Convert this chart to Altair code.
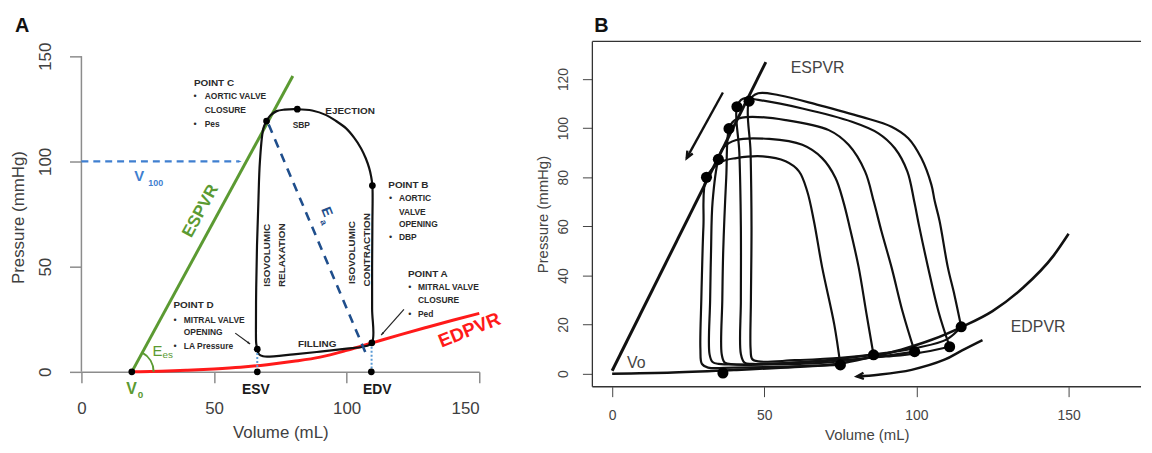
import math
import altair as alt
import pandas as pd

# ================= Panel A values =================
A_ESPVR_V = [19.0, 79.7]
A_ESPVR_P = [0.0, 140.6]

A_EDPVR_V = [19, 30, 40, 50, 60, 70, 80, 90, 100, 110, 120, 130, 140, 150]
A_EDPVR_P = [0, 0.3, 0.8, 1.4, 2.2, 3.4, 5.0, 7.0, 10.2, 13.9, 17.6, 21.1, 24.5, 27.8]

A_LOOP_V = [66.3, 67.0, 68.5, 70.0, 80, 90, 100, 106, 109.5, 109.6, 109.6, 109.7, 109.7,
            109.2, 108.5, 107.2, 105.4, 102.8, 99.8, 96.0, 92.3, 87.0, 81.4, 76.5, 73.6, 71.3, 69.8,
            68.6, 67.3, 66.7, 66.2, 65.9, 65.8, 65.9, 66.3]
A_LOOP_P = [10.8, 8.3, 7.4, 7.2, 8.3, 9.6, 11.0, 11.9, 13.8, 30, 50, 70, 88.5,
            93, 96.8, 101.5, 106.3, 111.3, 115.7, 119.2, 122, 124.2, 124.8, 124.6, 123.9, 121.9, 119.2,
            115.7, 100, 80, 60, 40, 20, 13.5, 10.8]

A_DOT_V = [69.8, 81.4, 109.7, 109.5, 66.3, 66.3, 109.3, 19.0]
A_DOT_P = [119.2, 124.8, 88.5, 13.8, 10.8, 0, 0, 0]

A_DROP_V = [66.3, 109.4]
A_DROP_TOP = [10.8, 13.8]

A_EA_V = [70.6, 108.0]
A_EA_P = [117.5, 6.5]

A_V100_V = [0, 59.0]
A_V100_P = [100, 100]
A_V100_TIP = (60.4, 100)

A_ARROW_D_V = [58.0, 63.6]
A_ARROW_D_P = [18.4, 13.2]
A_ARROW_A_V = [121.6, 113.0]
A_ARROW_A_P = [29.7, 17.5]

A_EES_ARC = (19.0, 0.0)

A_HEAD_TXT = ["POINT C", "POINT B", "POINT A", "POINT D"]
A_HEAD_V = [42.4, 115.7, 123.1, 34.7]
A_HEAD_P = [137.3, 89.0, 46.5, 31.6]

A_MID_TXT = ["EJECTION", "FILLING"]
A_MID_V = [101.3, 88.9]
A_MID_P = [123.9, 13.2]

A_ROT_TXT = ["ISOVOLUMIC", "RELAXATION", "ISOVOLUMIC", "CONTRACTION"]
A_ROT_V = [69.8, 75.5, 101.9, 107.6]
A_ROT_P = [55.4, 55.4, 56.7, 58.0]

A_BUL_TXT = ["AORTIC VALVE", "CLOSURE", "Pes", "AORTIC", "VALVE", "OPENING", "DBP",
             "MITRAL VALVE", "CLOSURE", "Ped", "MITRAL VALVE", "OPENING", "LA Pressure"]
A_BUL_V = [46.5, 46.5, 46.5, 119.7, 119.7, 119.7, 119.7, 126.9, 126.9, 126.9, 38.6, 38.6, 38.6]
A_BUL_P = [130.9, 124.6, 118.0, 82.6, 76.0, 70.4, 64.1, 40.2, 33.9, 27.7, 24.8, 19.0, 12.4]

A_DOTCHAR_V = [42.8, 42.8, 116.6, 116.6, 123.8, 123.8, 35.3, 35.3]
A_DOTCHAR_P = [130.9, 118.0, 82.6, 64.1, 40.2, 27.7, 24.8, 12.4]

# ================= Panel B values =================
B_ESPVR_V = [0, 50.5]
B_ESPVR_P = [1.2, 126.9]

B_EDPVR_V = [0, 20, 40, 60, 75, 85, 95, 105, 115, 125, 135, 145, 150]
B_EDPVR_P = [0, 0.5, 1.5, 2.8, 4.2, 6.8, 9.8, 13.8, 19.1, 25.5, 35, 48, 57]

B_L1_V = [114.7, 112.5, 110.3, 107.6, 106, 104.9, 101.6, 97.3, 91.8, 82, 67.9, 54.9, 48, 45, 45.5, 45.8, 45.6, 45.5, 46, 48, 60, 75, 90, 100, 110, 114.7]
B_L1_P = [19.1, 32, 43.4, 62.2, 70.3, 77, 87.8, 95.9, 100.6, 104.6, 109.4, 113.4, 114.2, 111, 90, 60, 30, 10, 6, 5, 5.5, 6.5, 8.5, 10.5, 14, 19.1]
B_L2_V = [110.9, 107.3, 103.8, 100.9, 99.3, 97.0, 92.9, 87.5, 78.8, 62.5, 48, 43, 41, 41.8, 42.3, 42.3, 42.3, 43.5, 46, 60, 75, 90, 100, 110.9]
B_L2_P = [11, 25, 43.4, 60, 70, 82.4, 91.8, 97.9, 102.6, 108, 111.5, 112, 108.7, 90, 60, 30, 8, 4.5, 4, 4.5, 5.5, 7, 8.3, 11]
B_L3_V = [99.4, 95.5, 91.8, 88.5, 86, 83.1, 77.7, 71.2, 57, 44, 40, 38.4, 37.5, 36.5, 36.2, 36, 37, 40, 55, 70, 85, 99.4]
B_L3_P = [9, 25, 43.4, 58, 70, 82.4, 93.2, 99.2, 103.3, 104.5, 103, 99.8, 80, 50, 30, 8, 4.5, 3.8, 3.8, 4.5, 6.5, 9]
B_L4_V = [85.9, 83.5, 81, 78, 76, 73.4, 69, 62.5, 51.6, 40.8, 36.5, 34.9, 33, 32.5, 32.2, 32, 33, 35, 50, 70, 85.9]
B_L4_P = [7.7, 25, 43.4, 60, 70, 79.7, 87.8, 93.2, 95.6, 95.2, 92, 87.3, 70, 50, 30, 8, 4.8, 4, 4, 5.5, 7.7]
B_L5_V = [75, 73, 69, 66.3, 64.1, 61.4, 57, 49.5, 40.8, 36, 31, 30, 29.5, 29.3, 29, 29.5, 31.5, 40, 55, 75]
B_L5_P = [3.6, 20, 43.4, 62.2, 74.3, 82.4, 86.5, 88.5, 87.8, 86.3, 80, 60, 40, 30, 10, 4, 2.5, 2.5, 2.8, 3.6]

B_ES_V = [31, 34.9, 38.4, 41, 45]
B_ES_P = [80, 87.3, 99.8, 108.7, 111]
B_ED_V = [75, 85.9, 99.4, 110.9, 114.7, 36.4]
B_ED_P = [3.6, 7.7, 9, 11, 19.1, 0.3]

B_AR1_V = [36.4, 24.5]
B_AR1_P = [114.5, 87.8]
B_AR2_V = [121.7, 115, 109.2, 98.4, 87.5, 80.4]
B_AR2_P = [13.7, 9.5, 5.7, 1.6, -0.4, -1.1]

B_TXT = ["ESPVR", "EDPVR", "Vo"]
B_TXT_V = [58.7, 131.0, 4.9]
B_TXT_P = [124.4, 19.1, 4.4]

# ================= layout / style =================
WA, HA = 401, 333
A_XDOM, A_YDOM = [0, 150], [0, 157]
WB, HB = 553, 348
B_XDOM, B_YDOM = [-6.5, 173.8], [-5.3, 135.3]

AXF = "Liberation Sans"
GREEN = "#5b9a32"
RED = "#ff1a1a"
NAVY = "#1f4e8c"
BLUE = "#3f7fd0"
LBLUE = "#5b9bd5"
INK = "#2b2b2b"
AGREY = "#8c8c8c"

axA_x = alt.Axis(values=[0, 50, 100, 150], domain=True, domainColor=AGREY, domainWidth=1.5,
                 tickColor=AGREY, tickWidth=1.5, tickSize=11, labelFontSize=17, labelColor="#404040",
                 labelPadding=18, labelFont=AXF, labelFlush=False,
                 labelAlign={"condition": {"test": "datum.value >= 150", "value": "right"}, "value": "center"},
                 title="Volume (mL)", titleFont=AXF,
                 titleFontSize=17, titleFontWeight="normal", titleColor="#404040", titlePadding=8, grid=False)
axA_y = alt.Axis(values=[0, 50, 100, 150], domain=False, tickColor=AGREY, tickWidth=1.5, tickSize=12,
                 labelFontSize=17, labelColor="#404040", labelPadding=15, labelFont=AXF, labelAngle=270,
                 labelAlign="center", labelBaseline="bottom", title="Pressure (mmHg)", titleFont=AXF,
                 titleFontSize=17, titleFontWeight="normal", titleColor="#404040", titlePadding=9,
                 titleY=177, grid=False)
axB_x = alt.Axis(values=[0, 50, 100, 150], domain=False, tickColor="#444444", tickWidth=1, tickSize=10,
                 labelFontSize=14, labelColor="#444444", labelPadding=12, labelFont=AXF, labelFlush=False,
                 title="Volume (mL)", titleFont=AXF, titleFontSize=15, titleFontWeight="normal",
                 titleColor="#444444", titlePadding=5, grid=False)
axB_y = alt.Axis(values=[0, 20, 40, 60, 80, 100, 120], domain=False, tickColor="#444444", tickWidth=1,
                 tickSize=10, labelFontSize=14, labelColor="#444444", labelPadding=12, labelFont=AXF,
                 labelAngle=270, labelAlign="center", labelBaseline="bottom", title="Pressure (mmHg)",
                 titleFont=AXF, titleFontSize=15, titleFontWeight="normal", titleColor="#444444",
                 titlePadding=6, grid=False)


def XA(f="V"):
    return alt.X(f"{f}:Q", scale=alt.Scale(domain=A_XDOM, nice=False, zero=False), axis=axA_x)


def YA(f="P"):
    return alt.Y(f"{f}:Q", scale=alt.Scale(domain=A_YDOM, nice=False, zero=False), axis=axA_y)


def XB(f="V"):
    return alt.X(f"{f}:Q", scale=alt.Scale(domain=B_XDOM, nice=False, zero=False), axis=axB_x)


def YB(f="P"):
    return alt.Y(f"{f}:Q", scale=alt.Scale(domain=B_YDOM, nice=False, zero=False), axis=axB_y)


SXA, SYA = WA / (A_XDOM[1] - A_XDOM[0]), HA / (A_YDOM[1] - A_YDOM[0])
SXB, SYB = WB / (B_XDOM[1] - B_XDOM[0]), HB / (B_YDOM[1] - B_YDOM[0])


def head_angle(v0, p0, v1, p1, sx, sy):
    dx = (v1 - v0) * sx
    dy = -(p1 - p0) * sy
    return (math.degrees(math.atan2(dx, -dy)) + 360) % 360


def path_df(V, P):
    return pd.DataFrame({"V": V, "P": P, "i": list(range(len(V)))})


def line(V, P, X, Y, **kw):
    return alt.Chart(path_df(V, P)).mark_line(**kw).encode(x=X(), y=Y(), order=alt.Order("i:Q"))


def txt(V, P, T, X, Y, **kw):
    df = pd.DataFrame({"V": V, "P": P, "t": T})
    return alt.Chart(df).mark_text(**kw).encode(x=X(), y=Y(), text="t:N")


TRI = "M 0 0 L -0.6 1.7 L 0.6 1.7 Z"
CHEV = "M -0.8 1.8 L 0 0 L 0.8 1.8"


def head(v, p, ang, X, Y, shape, size, color, filled, sw=1):
    df = pd.DataFrame({"V": [v], "P": [p]})
    return alt.Chart(df).mark_point(shape=shape, size=size, angle=ang, filled=filled, color=color,
                                    opacity=1, strokeWidth=sw).encode(x=X(), y=Y())


# ================= Panel A =================
a_layers = []
a_layers.append(alt.Chart(pd.DataFrame({"V": [0], "P": [0], "P2": [150]})).mark_rule(
    color=AGREY, strokeWidth=1.5).encode(x=XA(), y=YA(), y2="P2:Q"))
a_layers.append(line(A_V100_V, A_V100_P, XA, YA, color=BLUE, strokeWidth=2.2, strokeDash=[7, 5]))
a_layers.append(head(A_V100_TIP[0], A_V100_TIP[1], 90, XA, YA, TRI, 20, BLUE, True))
a_layers.append(line(A_EDPVR_V, A_EDPVR_P, XA, YA, color=RED, strokeWidth=3, interpolate="monotone"))
a_layers.append(line(A_ESPVR_V, A_ESPVR_P, XA, YA, color=GREEN, strokeWidth=3))
a_layers.append(line(A_LOOP_V, A_LOOP_P, XA, YA, color="#111111", strokeWidth=2.2, interpolate="catmull-rom"))
a_layers.append(line(A_EA_V, A_EA_P, XA, YA, color=NAVY, strokeWidth=2.6, strokeDash=[9, 7]))
drop_df = pd.DataFrame({"V": A_DROP_V, "P": A_DROP_TOP, "P2": [0] * len(A_DROP_V)})
a_layers.append(alt.Chart(drop_df).mark_rule(color=LBLUE, strokeWidth=2, strokeDash=[2, 2]).encode(
    x=XA(), y=YA(), y2="P2:Q"))
esp_ang = math.atan2((A_ESPVR_V[1] - A_ESPVR_V[0]) * SXA, (A_ESPVR_P[1] - A_ESPVR_P[0]) * SYA)
a_layers.append(alt.Chart(pd.DataFrame({"V": [A_EES_ARC[0]], "P": [A_EES_ARC[1]]})).mark_arc(
    filled=False, color=GREEN, strokeWidth=2, radius=22, radius2=22, theta=esp_ang, theta2=math.pi / 2
).encode(x=XA(), y=YA()))
a_layers.append(alt.Chart(pd.DataFrame({"V": A_DOT_V, "P": A_DOT_P})).mark_circle(
    size=46, color="#000000", opacity=1).encode(x=XA(), y=YA()))
for V, P in [(A_ARROW_D_V, A_ARROW_D_P), (A_ARROW_A_V, A_ARROW_A_P)]:
    a_layers.append(line(V, P, XA, YA, color="#222222", strokeWidth=1.2))
    a_layers.append(head(V[1], P[1], head_angle(V[0], P[0], V[1], P[1], SXA, SYA), XA, YA, TRI, 14,
                         "#222222", True))
a_layers.append(txt(A_HEAD_V, A_HEAD_P, A_HEAD_TXT, XA, YA, font=AXF, fontSize=10, fontWeight="bold",
                    color=INK, align="left", baseline="middle"))
a_layers.append(txt(A_MID_V, A_MID_P, A_MID_TXT, XA, YA, font=AXF, fontSize=10, fontWeight="bold",
                    color=INK, align="center", baseline="middle"))
a_layers.append(txt(A_ROT_V, A_ROT_P, A_ROT_TXT, XA, YA, font=AXF, fontSize=10, fontWeight="bold",
                    color=INK, align="center", baseline="middle", angle=270))
a_layers.append(txt(A_BUL_V, A_BUL_P, A_BUL_TXT, XA, YA, font=AXF, fontSize=8.5, fontWeight="bold",
                    color=INK, align="left", baseline="middle"))
a_layers.append(txt(A_DOTCHAR_V, A_DOTCHAR_P, ["\u2022"] * len(A_DOTCHAR_V), XA, YA, font=AXF, fontSize=9,
                    color=INK, align="center", baseline="middle"))
a_layers.append(txt([82.9], [117.3], ["SBP"], XA, YA, font=AXF, fontSize=8.5, fontWeight="bold",
                    color=INK, align="center", baseline="middle"))
a_layers.append(txt([65.8, 111.5], [-8.5, -8.5], ["ESV", "EDV"], XA, YA, font=AXF, fontSize=14,
                    fontWeight="bold", color="#1a1a1a", align="center", baseline="middle"))
a_layers.append(txt([44.9], [76.4], ["ESPVR"], XA, YA, font=AXF, fontSize=17, fontWeight="bold",
                    color=GREEN, align="center", baseline="middle", angle=298.5))
a_layers.append(txt([146.3], [19.8], ["EDPVR"], XA, YA, font=AXF, fontSize=19, fontWeight="bold",
                    color=RED, align="center", baseline="middle", angle=338))
a_layers.append(txt([92.4], [75.9], ["E"], XA, YA, font=AXF, fontSize=14, fontWeight="bold",
                    color=NAVY, align="center", baseline="middle", angle=68))
a_layers.append(txt([91.3], [71.0], ["a"], XA, YA, font=AXF, fontSize=9, fontWeight="bold",
                    color=NAVY, align="center", baseline="middle", angle=68))
a_layers.append(txt([19.9], [90.5], ["V"], XA, YA, font=AXF, fontSize=15, fontWeight="bold",
                    color=BLUE, align="left", baseline="alphabetic"))
a_layers.append(txt([25.2], [88.5], ["100"], XA, YA, font=AXF, fontSize=9, fontWeight="bold",
                    color=BLUE, align="left", baseline="alphabetic"))
a_layers.append(txt([26.8], [7.7], ["E"], XA, YA, font=AXF, fontSize=15, color=GREEN, align="left",
                    baseline="alphabetic"))
a_layers.append(txt([30.6], [6.5], ["es"], XA, YA, font=AXF, fontSize=10, color=GREEN, align="left",
                    baseline="alphabetic"))
a_layers.append(txt([18.9], [-10.4], ["V"], XA, YA, font=AXF, fontSize=16, fontWeight="bold",
                    color=GREEN, align="center", baseline="alphabetic"))
a_layers.append(txt([21.2], [-12.4], ["0"], XA, YA, font=AXF, fontSize=10, fontWeight="bold",
                    color=GREEN, align="left", baseline="alphabetic"))
a_layers.append(alt.Chart(pd.DataFrame({"t": ["A"]})).mark_text(
    font=AXF, fontSize=20, fontWeight="bold", color="#111111", align="left", baseline="alphabetic"
).encode(x=alt.value(-67), y=alt.value(-10), text="t:N"))

panelA = alt.layer(*a_layers).properties(width=WA, height=HA)

# ================= Panel B =================
b_layers = []
rule_df = pd.DataFrame({"k": [0]})
b_layers.append(alt.Chart(rule_df).mark_rule(color="#333333", strokeWidth=1.3).encode(
    x=alt.value(0), x2=alt.value(WB), y=alt.value(0)))
b_layers.append(alt.Chart(rule_df).mark_rule(color="#333333", strokeWidth=1.3).encode(
    x=alt.value(0), y=alt.value(0), y2=alt.value(HB)))
b_layers.append(alt.Chart(rule_df).mark_rule(color="#333333", strokeWidth=1.3).encode(
    x=alt.value(0), x2=alt.value(WB), y=alt.value(HB)))
b_layers.append(line(B_EDPVR_V, B_EDPVR_P, XB, YB, color="#111111", strokeWidth=2.6, interpolate="monotone"))
b_layers.append(line(B_ESPVR_V, B_ESPVR_P, XB, YB, color="#111111", strokeWidth=3))
loops = []
for k, (V, P) in enumerate([(B_L1_V, B_L1_P), (B_L2_V, B_L2_P), (B_L3_V, B_L3_P),
                            (B_L4_V, B_L4_P), (B_L5_V, B_L5_P)]):
    d = path_df(V, P)
    d["loop"] = k
    loops.append(d)
b_layers.append(alt.Chart(pd.concat(loops)).mark_line(color="#111111", strokeWidth=2.2,
                                                      interpolate="catmull-rom").encode(
    x=XB(), y=YB(), detail="loop:N", order=alt.Order("i:Q")))
b_layers.append(alt.Chart(pd.DataFrame({"V": B_ES_V + B_ED_V, "P": B_ES_P + B_ED_P})).mark_circle(
    size=125, color="#000000", opacity=1).encode(x=XB(), y=YB()))
b_layers.append(line(B_AR1_V, B_AR1_P, XB, YB, color="#111111", strokeWidth=2.4))
b_layers.append(head(B_AR1_V[-1], B_AR1_P[-1], head_angle(B_AR1_V[0], B_AR1_P[0], B_AR1_V[-1],
                                                          B_AR1_P[-1], SXB, SYB),
                     XB, YB, CHEV, 60, "#111111", False, 2.4))
b_layers.append(line(B_AR2_V, B_AR2_P, XB, YB, color="#111111", strokeWidth=2.4, interpolate="catmull-rom"))
b_layers.append(head(B_AR2_V[-1], B_AR2_P[-1], head_angle(B_AR2_V[-2], B_AR2_P[-2], B_AR2_V[-1],
                                                          B_AR2_P[-1], SXB, SYB),
                     XB, YB, CHEV, 60, "#111111", False, 2.4))
b_layers.append(txt(B_TXT_V, B_TXT_P, B_TXT, XB, YB, font=AXF, fontSize=16, color="#444444",
                    align="left", baseline="middle"))
b_layers.append(alt.Chart(pd.DataFrame({"t": ["B"]})).mark_text(
    font=AXF, fontSize=20, fontWeight="bold", color="#111111", align="left", baseline="alphabetic"
).encode(x=alt.value(2), y=alt.value(-10), text="t:N"))

panelB = alt.layer(*b_layers).properties(width=WB, height=HB)

chart = alt.hconcat(panelA, panelB, spacing=114, bounds="flush").properties(
    padding={"left": 2, "top": 6, "right": 2, "bottom": 2}
).configure_view(strokeOpacity=0)

chart.save("out.html", embed_options={"renderer": "svg", "actions": False})
